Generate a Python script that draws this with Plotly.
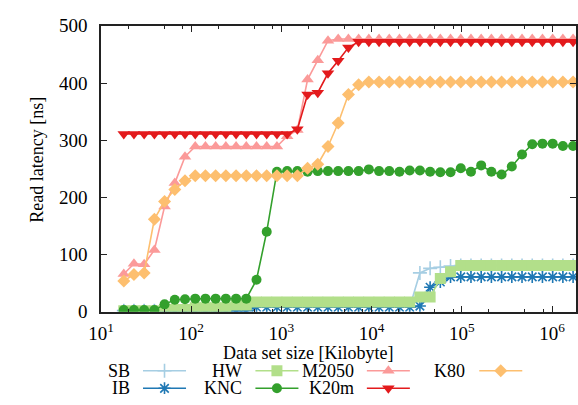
import plotly.graph_objects as go

# Data set sizes in kilobytes (log-spaced benchmark steps)
sizes_kb = [17.9, 23.2, 30.1, 39.1, 50.7, 65.8, 85.4, 110.9, 143.9, 186.7,
            242.3, 314.5, 408.1, 529.7, 687.4, 892.1, 1157.7, 1502.4, 1949.8, 2530.4,
            3283.9, 4261.7, 5530.7, 7177.6, 9315, 12088, 15688, 20360, 26424, 34292,
            44503, 57756, 74955, 97275, 126240, 163840, 212620, 275930, 358100, 464730,
            603120, 782720, 1015800, 1318300, 1710800]

# Read latency in ns per architecture
lat_sb = [2, 2, 2, 2, 2, 2, 2, 2, 2, 2,
          2, 2, 2, 8, 8, 8, 8, 8, 8, 8,
          8, 8, 8, 8, 8, 8, 8, 8, 8, 68,
          76, 78, 80, 81, 81, 81, 81, 81, 81, 81,
          81, 81, 81, 81, 81]
lat_ib = [2, 2, 2, 2, 2, 2, 2, 2, 2, 2,
          2, 2, 2, 8, 8, 8, 8, 8, 8, 8,
          8, 8, 8, 8, 8, 8, 8, 8, 8, 10,
          43, 52, 61, 61, 61, 61, 61, 61, 61, 61,
          61, 61, 61, 61, 61]
lat_hw = [2, 2, 2, 2, 4, 4, 4, 7, 7, 7,
          7, 12, 12, 17, 17, 17, 17, 17, 17, 17,
          17, 17, 17, 17, 17, 17, 17, 17, 17, 26,
          26, 58, 70, 81, 81, 81, 81, 81, 81, 81,
          81, 81, 81, 81, 81]
lat_knc = [3, 3, 3, 3, 13, 21, 22, 23, 23, 23,
           23, 23, 23, 56, 140, 245, 246, 246, 245, 246,
           246, 246, 246, 246, 249, 246, 246, 245, 247, 247,
           245, 244, 244, 251, 245, 256, 245, 240, 254, 275,
           293, 294, 294, 290, 290]
lat_m2050 = [66, 84, 83, 108, 184, 225, 271, 289, 289, 289,
             289, 289, 289, 289, 289, 289, 307, 318, 406, 440,
             474, 477, 477, 477, 477, 477, 477, 477, 477, 477,
             477, 477, 477, 477, 477, 477, 477, 477, 477, 477,
             477, 477, 477, 477, 477]
lat_k20m = [311, 311, 311, 311, 311, 311, 311, 311, 311, 311,
            311, 311, 311, 311, 311, 311, 311, 319, 380, 383,
            417, 439, 462, 472, 472, 472, 472, 472, 472, 472,
            472, 472, 472, 472, 472, 472, 472, 472, 472, 472,
            472, 472, 472, 472, 472]
lat_k80 = [54, 65, 68, 162, 193, 214, 229, 238, 238, 238,
           238, 238, 238, 238, 238, 238, 238, 238, 251, 258,
           289, 330, 380, 397, 402, 402, 402, 402, 402, 402,
           402, 402, 402, 402, 402, 402, 402, 402, 402, 402,
           402, 402, 402, 402, 402]

names = ["SB", "IB", "HW", "KNC", "M2050", "K20m", "K80"]
series = [lat_sb, lat_ib, lat_hw, lat_knc, lat_m2050, lat_k20m, lat_k80]
colors = ["#a6cee3", "#1f78b4", "#b2df8a", "#33a02c", "#fb9a99", "#e31a1c", "#fdbf6f"]
symbols = ["cross-thin", "asterisk", "square", "circle", "triangle-up", "triangle-down", "diamond"]
msizes = [10, 10, 11, 10, 11, 11, 10]

x_ticks = [10, 100, 1000, 10000, 100000, 1000000]
x_ticktext = ["10<sup>1</sup>", "10<sup>2</sup>", "10<sup>3</sup>",
              "10<sup>4</sup>", "10<sup>5</sup>", "10<sup>6</sup>"]
x_minor = [m * 10 ** e for e in range(1, 7) for m in (2, 5, 8)]
y_ticks = [0, 100, 200, 300, 400, 500]

FONT = "Liberation Serif"
W, H = 578, 405


def marker_for(i):
    open_sym = symbols[i] in ("cross-thin", "asterisk")
    return dict(symbol=symbols[i], size=msizes[i], color=colors[i],
                line=dict(color=colors[i], width=1.6 if open_sym else 0))


fig = go.Figure()
for i, (name, vals) in enumerate(zip(names, series)):
    fig.add_trace(go.Scatter(
        x=sizes_kb, y=vals, name=name, mode="lines+markers",
        line=dict(color=colors[i], width=1.6),
        marker=marker_for(i), showlegend=False, xaxis="x", yaxis="y"))

# Key samples (gnuplot style: label on the left, line sample on the right)
key_rows = {"SB": 0, "IB": 1, "HW": 0, "KNC": 1, "M2050": 0, "K20m": 1, "K80": 0}
key_cols = {"SB": 0, "IB": 0, "HW": 1, "KNC": 1, "M2050": 2, "K20m": 2, "K80": 3}
col_text_right = [122, 236, 351, 464]
col_line_start = [133, 248, 362, 477]
key_len = 44
row_y = [380.5, 399]

annotations = []
for i, name in enumerate(names):
    c, r = key_cols[name], key_rows[name]
    x0 = col_line_start[c]
    fig.add_trace(go.Scatter(
        x=[x0, x0 + key_len], y=[row_y[r], row_y[r]], mode="lines",
        line=dict(color=colors[i], width=1.6), showlegend=False,
        hoverinfo="skip", xaxis="x2", yaxis="y2"))
    fig.add_trace(go.Scatter(
        x=[x0 + key_len / 2], y=[row_y[r]], mode="markers",
        marker=marker_for(i), showlegend=False,
        hoverinfo="skip", xaxis="x2", yaxis="y2"))
    annotations.append(dict(
        x=col_text_right[c] / W, y=1 - row_y[r] / H, xref="paper", yref="paper",
        text=name, showarrow=False, xanchor="right", yanchor="middle",
        font=dict(family=FONT, size=18, color="black")))

annotations.append(dict(
    x=302 / W, y=1 - 362 / H, xref="paper", yref="paper",
    text="Data set size [Kilobyte]", showarrow=False,
    xanchor="center", yanchor="middle",
    font=dict(family=FONT, size=18, color="black")))
annotations.append(dict(
    x=25 / W, y=1 - 157.5 / H, xref="paper", yref="paper",
    text="Read latency [ns]", showarrow=False, textangle=-90,
    xanchor="center", yanchor="middle",
    font=dict(family=FONT, size=18, color="black")))

left, right, top, bottom = 90, 576, 16.7, 318.3
axis_common = dict(showline=True, linecolor="#222", linewidth=1.5, mirror="ticks",
                   ticks="inside", ticklen=6, tickwidth=1, tickcolor="#222",
                   showgrid=False, zeroline=False,
                   tickfont=dict(family=FONT, size=19, color="black"))

fig.update_layout(
    width=W, height=H,
    margin=dict(l=0, r=0, t=0, b=0),
    paper_bgcolor="white", plot_bgcolor="rgba(0,0,0,0)",
    font=dict(family=FONT, color="black"),
    xaxis=dict(type="log", range=[1, 6.266], domain=[left / W, right / W],
               anchor="y", tickmode="array", tickvals=x_ticks, ticktext=x_ticktext,
               ticklabelstandoff=4,
               minor=dict(tickmode="array", tickvals=x_minor, ticks="inside",
                          ticklen=3, tickcolor="#222", showgrid=False),
               **axis_common),
    yaxis=dict(range=[0, 500], domain=[1 - bottom / H, 1 - top / H],
               anchor="x", tickmode="array", tickvals=y_ticks,
               ticklabelstandoff=8, **axis_common),
    xaxis2=dict(range=[0, W], domain=[0, 1], anchor="y2", visible=False),
    yaxis2=dict(range=[H, 0], domain=[0, 1], anchor="x2", visible=False),
    annotations=annotations,
    hovermode=False,
)

fig.write_html("out.html")
